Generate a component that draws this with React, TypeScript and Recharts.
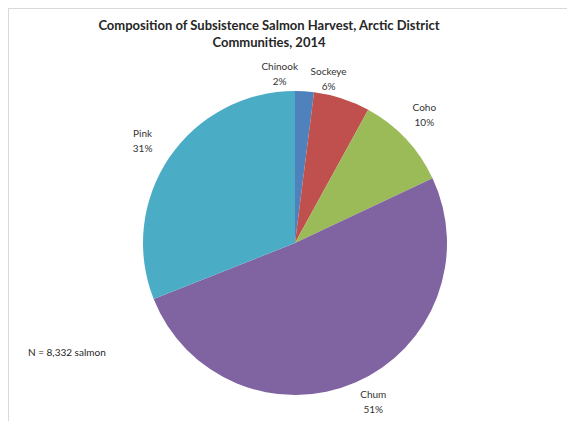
import React from 'react';
import { PieChart, Pie, Cell } from 'recharts';

const species = ['Chinook', 'Sockeye', 'Coho', 'Chum', 'Pink'];
const shares = [2, 6, 10, 51, 31];
const colors = ['#4F81BD', '#C0504D', '#9BBB59', '#8064A2', '#4BACC6'];

const data = species.map((name, i) => ({ name, value: shares[i] }));

// small nudges so labels sit where Excel's best-fit put them
const labelNudge: Record<string, [number, number]> = {
    Chinook: [-26, 0],
    Sockeye: [-20, 0],
    Coho: [0, -8],
    Chum: [9, -2],
    Pink: [-5, -3],
};

const RADIAN = Math.PI / 180;
const font = 'Lato, "Open Sans", sans-serif';

const renderLabel = (props: any) => {
    const { cx, cy, midAngle, outerRadius, name, value } = props;
    const c = Math.cos(-midAngle * RADIAN);
    const s = Math.sin(-midAngle * RADIAN);
    const r = outerRadius + 14 + 12 * Math.abs(c) + 4 * Math.abs(s);
    const [nx, ny] = labelNudge[name] || [0, 0];
    const x = cx + r * c + nx;
    const y = cy + r * s + ny;
    return (
        <text x={x} y={y} textAnchor="middle" fontSize={10} fontFamily={font} fill="#333">
            <tspan x={x} dy={-3}>{name}</tspan>
            <tspan x={x} dy={15}>{`${value}%`}</tspan>
        </text>
    );
};

const App: React.FC = () => {
    return (
        <div style={{ position: 'relative', width: 565, height: 430, border: '1px solid #d9d9d9', borderBottom: 'none', fontFamily: font, background: '#fff' }}>
            <div style={{ position: 'absolute', left: 0, top: 8, width: 520, textAlign: 'center', fontWeight: 700, fontSize: 13, lineHeight: '17px', color: '#262626' }}>
                Composition of Subsistence Salmon Harvest, Arctic District<br />Communities, 2014
            </div>
            <div style={{ position: 'absolute', left: 19, top: 337, fontSize: 10, color: '#262626' }}>
                N = 8,332 salmon
            </div>
            <PieChart width={565} height={420} style={{ position: 'absolute', left: 0, top: 0 }}>
                <Pie
                    data={data}
                    dataKey="value"
                    nameKey="name"
                    cx={281}
                    cy={229}
                    outerRadius={152}
                    startAngle={90}
                    endAngle={-270}
                    stroke="none"
                    label={renderLabel}
                    labelLine={false}
                    isAnimationActive={false}
                >
                    {data.map((d, i) => (
                        <Cell key={d.name} fill={colors[i]} />
                    ))}
                </Pie>
            </PieChart>
        </div>
    );
};

export default App;
